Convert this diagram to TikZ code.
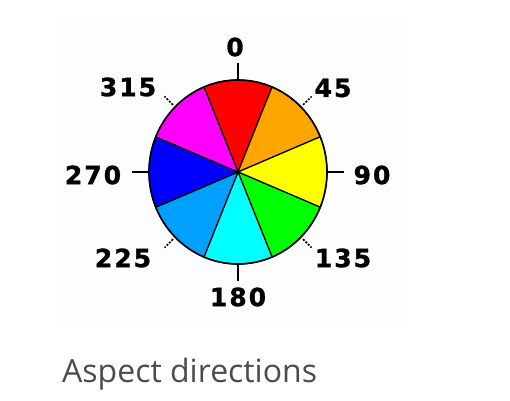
\documentclass[tikz,border=0pt]{standalone}
\usepackage{fontspec}
\newfontfamily\digitfont[LetterSpace=8, BoldFeatures={FakeBold=1.2}]{DejaVu Sans}
\newfontfamily\capfont{Open Sans}
\begin{document}
\begin{tikzpicture}[x=1pt, y=-1pt]
            \tikzstyle{every node} = [inner sep=0pt]
            \tikzstyle{grad} = [font=\digitfont\bfseries\fontsize{25}{25}\selectfont, text=black]
            \tikzstyle{felie} = [draw=black, line width=1.2pt]
            \tikzstyle{margine} = [draw=black, line width=1.6pt]
            \tikzstyle{liniuta} = [line width=2.6pt]
            \tikzstyle{punctat} = [line width=1.6pt, dash pattern=on 2pt off 1.5pt]
            \tikzstyle{titlu} = [font=\capfont\fontsize{32}{32}\selectfont, text=gri, anchor=base west]

            \definecolor{fundal}{rgb}{0.992,0.992,0.992}
            \definecolor{gri}{rgb}{0.300,0.300,0.300}
            \definecolor{c1}{rgb}{1.000,0.000,0.000}
            \definecolor{c2}{rgb}{1.000,0.647,0.000}
            \definecolor{c3}{rgb}{1.000,1.000,0.000}
            \definecolor{c4}{rgb}{0.000,1.000,0.000}
            \definecolor{c5}{rgb}{0.000,1.000,1.000}
            \definecolor{c6}{rgb}{0.000,0.627,1.000}
            \definecolor{c7}{rgb}{0.000,0.000,1.000}
            \definecolor{c8}{rgb}{1.000,0.000,1.000}

            \useasboundingbox (0,0) rectangle (510,400);
            \fill[fundal] (58,17) rectangle (408,322);

            \coordinate (centru) at (238,172);

            % felii de 45 de grade
            \foreach[count=\c] \d in {0,45,...,315} {
                \pgfmathsetmacro\a{\d-112.5}
                \pgfmathsetmacro\b{\d-67.5}
                \filldraw[fill=c\c, felie] (centru) -- ++(\a:89 and 92)
                    arc[start angle=\a, end angle=\b, x radius=89, y radius=92] -- cycle;
            }
            \draw[margine] (centru) ellipse[x radius=89, y radius=92];

            \foreach \d in {0,90,180,270} {
                \pgfmathsetmacro\a{\d-90}
                \path (centru) ++(\a:89 and 92) coordinate (ta\d)
                      (centru) ++(\a:106 and 109) coordinate (tb\d);
                \draw[liniuta] (ta\d) -- (tb\d);
            }
            \foreach \d in {45,135,225,315} {
                \pgfmathsetmacro\a{\d-90}
                \path (centru) ++(\a:92 and 95) coordinate (ta\d)
                      (centru) ++(\a:104 and 107) coordinate (tb\d);
                \draw[punctat] (ta\d) -- (tb\d);
            }

            \foreach \d/\x/\y in {0/235/47,45/333/88,90/372/175,135/343/258,180/238/297,225/123/258,270/93/175,315/128/87} {
                \node[grad] (l\d) at (\x,\y) {\d};
            }

            \node[titlu] (titlu) at (62,382) {Aspect directions};
        \end{tikzpicture}
\end{document}
